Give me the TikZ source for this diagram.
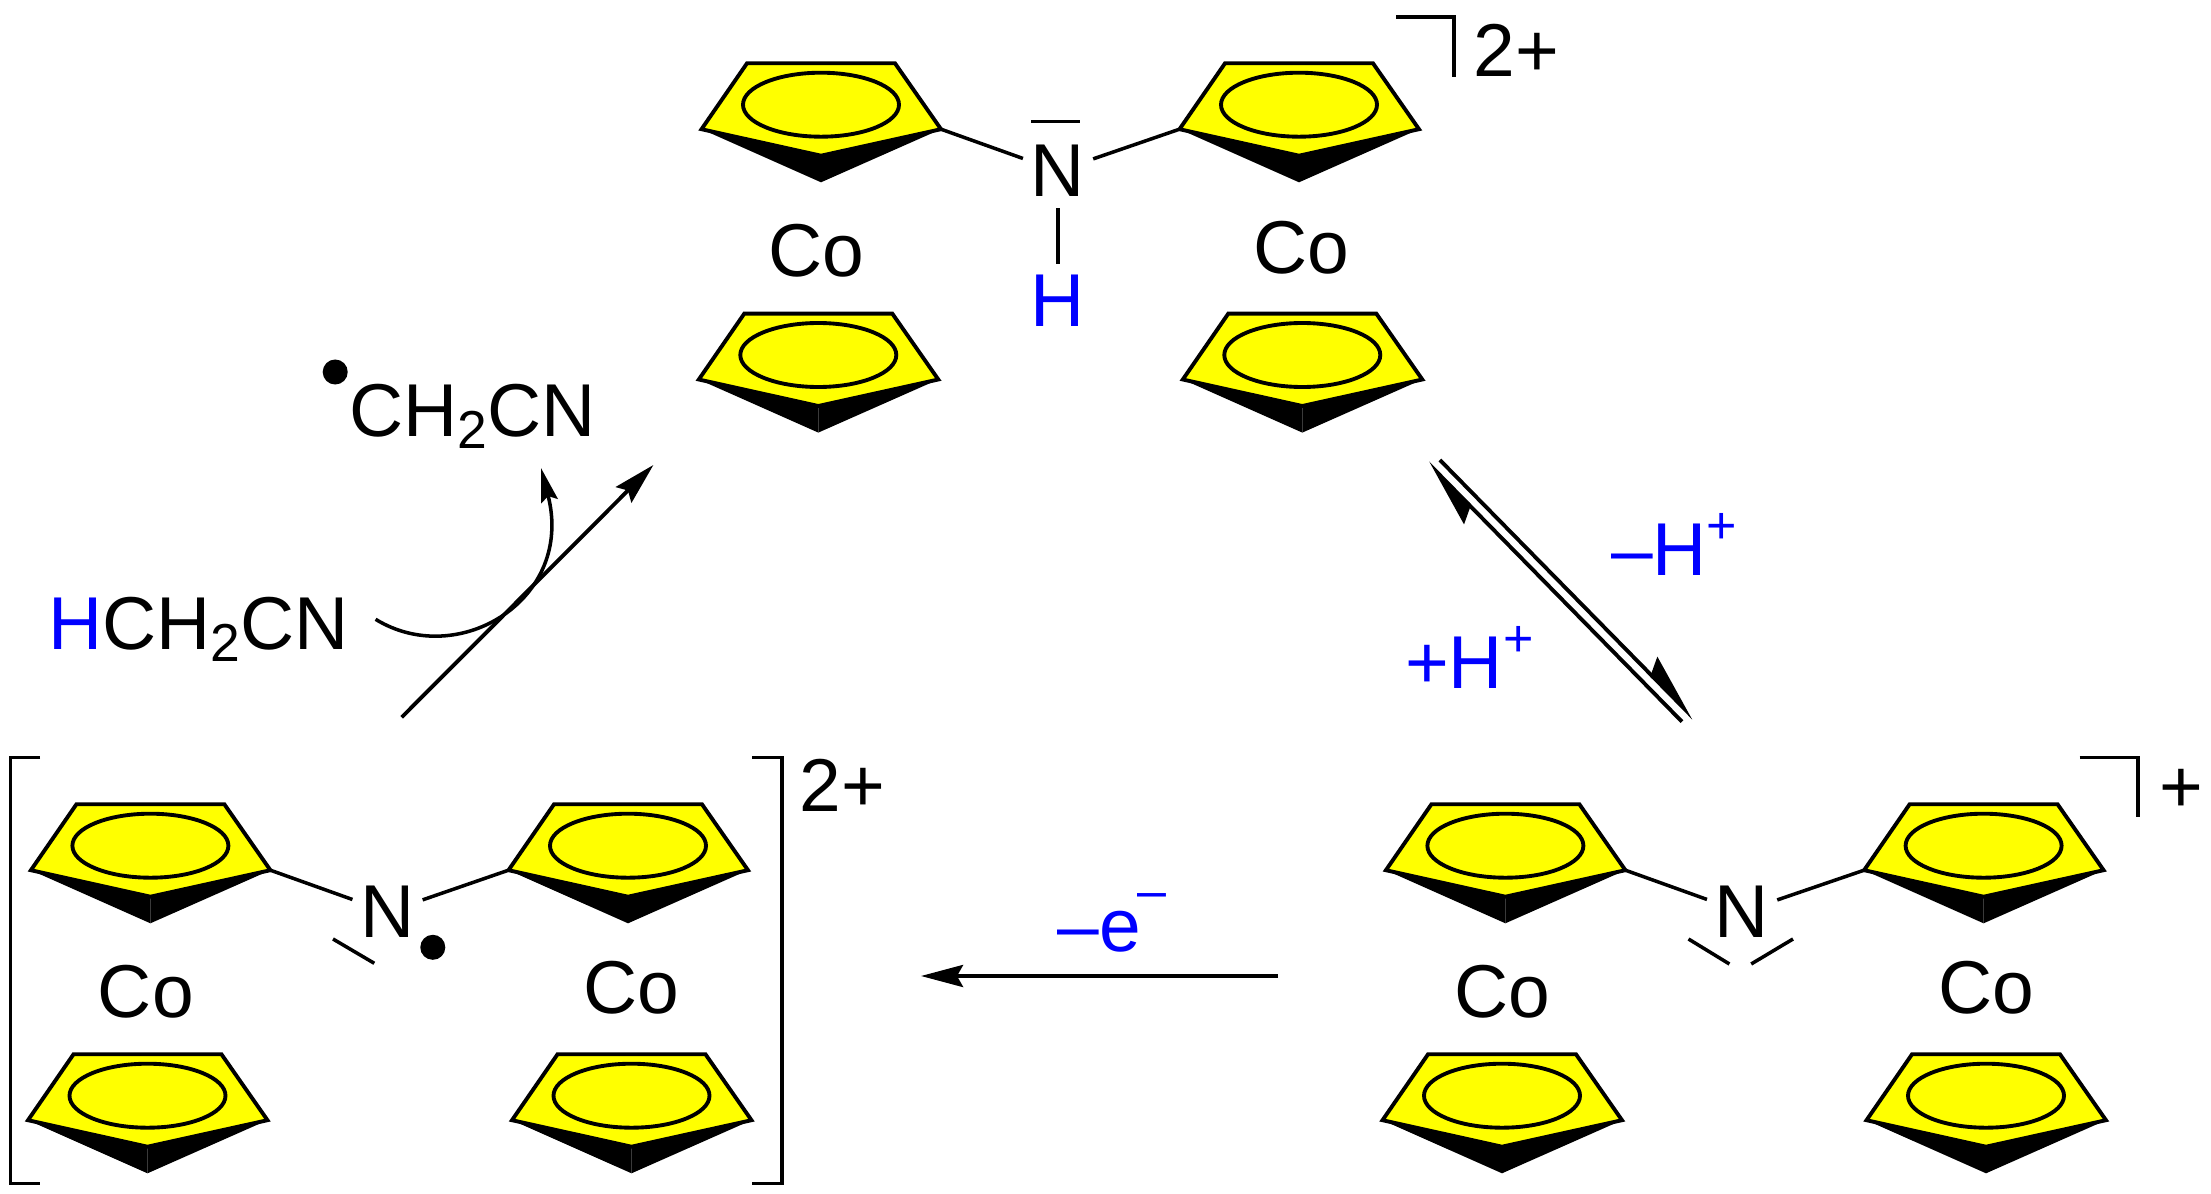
\documentclass[tikz,border=0pt]{standalone}
\usepackage{fontspec}
\setmainfont{Liberation Sans}
\usetikzlibrary{arrows.meta}

\definecolor{cpyellow}{RGB}{255,255,0}
\definecolor{hblue}{RGB}{0,0,255}

\newcommand{\subtwo}{\raisebox{-1.23mm}{\fontsize{15.2}{16}\selectfont 2}}
\newcommand{\supplus}{\raisebox{3.17mm}{\fontsize{14.8}{16}\selectfont +}}
\newcommand{\supminus}{\kern-.4mm\raisebox{4.2mm}{\fontsize{14.8}{16}\selectfont --}}

\tikzset{
    bond/.style={line width=1pt},
    ringline/.style={line width=1.1pt, line join=miter},
    lbl/.style={font=\fontsize{21.3}{25}\selectfont, inner sep=0pt},
    atom/.style={lbl, circle, outer sep=0pt},
    radical/.style={circle, fill=black, inner sep=0pt, minimum size=.25cm},
    mainarrow/.style={line width=1.1pt, -{Stealth[length=.42cm, width=.22cm, inset=.06cm]}},
    curlyarrow/.style={line width=1pt, -{Stealth[length=.34cm, width=.17cm, inset=.05cm]}},
    eqarrow/.style={line width=1.1pt, -{Stealth[harpoon, length=.62cm, width=.34cm, inset=.08cm]}},
    cpring/.pic={
        \fill[black] (-119.5,-26.5) -- (0,0) -- (0,26.6) -- cycle;
        \fill[black] (120,-26.5) -- (0,0) -- (0,26.6) -- cycle;
        \draw[ringline, fill=cpyellow] (-119.5,-26.5) -- (-74,-92.4) -- (74,-92.4)
            -- (120,-26.5) -- (0,0) -- cycle;
        \draw[ringline] (0,-51) ellipse [x radius=78, y radius=32];
        \coordinate (-r) at (120,-26.5);
        \coordinate (-l) at (-119.5,-26.5);
    }
}

\begin{document}
\begin{tikzpicture}[x=0.01cm, y=-0.01cm]
    \useasboundingbox (0,0) rectangle (2211,1194);

    % Cp rings of the three complexes
    \foreach \nm/\x/\y in {a1/821/155.7, a2/1299/155.7, a3/818.3/406, a4/1302.3/406,
                           b1/150.4/896.7, b2/628/896.7, b3/147.5/1146.7, b4/631.5/1146.7,
                           c1/1505.4/896.7, c2/1983.6/896.7, c3/1502/1146.7, c4/1986/1146.7} {
        \pic (\nm) at (\x,\y) {cpring};
    }
    % Co labels
    \foreach \nm/\x/\y in {coa1/816.6/250.5, coa2/1301.7/248.2, cob1/145.8/991.5,
                           cob2/631/988.2, coc1/1502/991.5, coc2/1986/988.2} {
        \node[lbl] (\nm) at (\x,\y) {Co};
    }

    % Top complex, amine
    \node[atom] (na) at (1058,171) {N};
    \node[atom, text=hblue] (ha) at (1058,301) {H};
    \draw[bond] (a1-r) -- (na);
    \draw[bond] (a2-l) -- (na);
    \draw[bond] (na) -- (ha);
    \draw[bond] (1031,121.7) -- (1080,121.7);
    \draw[bond] (1396,17) -- (1454,17) -- (1454,76.7);
    \node[lbl, anchor=base west] (qa) at (1473,76.7) {2+};

    % Left complex, radical
    \node[atom] (nb) at (387.5,912) {N};
    \node[radical] (radb) at (432.8,947.3) {};
    \draw[bond] (b1-r) -- (nb);
    \draw[bond] (b2-l) -- (nb);
    \draw[bond] (333,939) -- (374.3,963.3);
    \draw[bond] (40,757.3) -- (10.3,757.3) -- (10.3,1183.3) -- (40,1183.3);
    \draw[bond] (752,757.3) -- (782,757.3) -- (782,1183.3) -- (752,1183.3);
    \node[lbl, anchor=base west] (qb) at (799,811.7) {2+};

    % Right complex, amide
    \node[atom] (nc) at (1742,912) {N};
    \draw[bond] (c1-r) -- (nc);
    \draw[bond] (c2-l) -- (nc);
    \draw[bond] (1688.5,939) -- (1729.4,964);
    \draw[bond] (1793,939) -- (1751.2,964);
    \draw[bond] (2079.5,757.7) -- (2137.8,757.7) -- (2137.8,816.7);
    \node[lbl, anchor=base] (qc) at (2181,812) {+};

    % Equilibrium arrows
    \coordinate (eq1s) at (1439.9,460);
    \coordinate (eq1e) at (1693.7,718.3);
    \coordinate (eq2s) at (1682,721.7);
    \coordinate (eq2e) at (1427.7,462.7);
    \draw[eqarrow] (eq1s) -- (eq1e);
    \draw[eqarrow] (eq2s) -- (eq2e);
    \node[lbl, anchor=base west, text=hblue] (minush) at (1610.5,575) {--H\supplus};
    \node[lbl, anchor=base west, text=hblue] (plush) at (1404.5,688.3) {+H\supplus};

    % Electron loss arrow
    \coordinate (ox1) at (1278,976);
    \coordinate (ox2) at (921,976);
    \draw[mainarrow] (ox1) -- (ox2);
    \node[lbl, anchor=base west, text=hblue] (minuse) at (1057,951) {--e\supminus};

    % H abstraction arrows
    \coordinate (ab1) at (401.7,717.3);
    \coordinate (ab2) at (653.4,465);
    \draw[mainarrow] (ab1) -- (ab2);
    \node[lbl, anchor=base west] (subst) at (48,649) {\textcolor{hblue}{H}CH\subtwo CN};
    \node[lbl, anchor=base west] (prod) at (349,436) {CH\subtwo CN};
    \node[radical] (radp) at (335.2,372) {};
    \coordinate (cv1) at (375.6,619.3);
    \coordinate (cv2) at (541,468);
    \draw[curlyarrow] (cv1) .. controls (458,670) and (575,600) .. (cv2);
\end{tikzpicture}
\end{document}
